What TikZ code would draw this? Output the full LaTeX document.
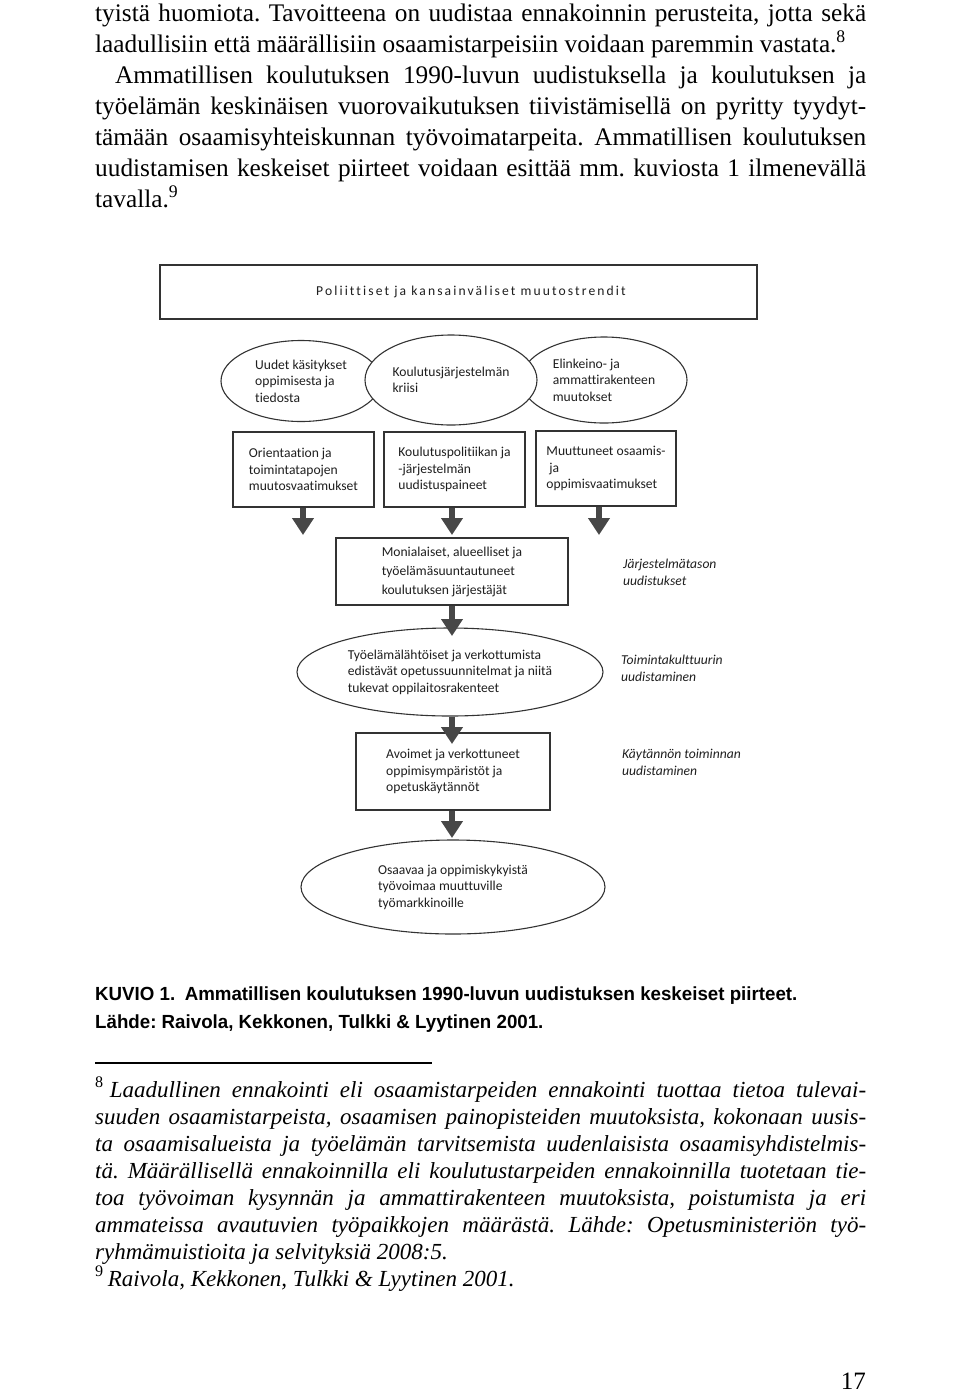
\documentclass[tikz,border=0pt]{standalone}
\usepackage{fontspec}
\setmainfont{Liberation Serif}
\newfontfamily\diag[Ligatures=NoCommon]{Carlito}
\newfontfamily\diagsp[LetterSpace=15.5,Ligatures=NoCommon]{Carlito}
\newfontfamily\capfont[FakeStretch=0.985]{Liberation Sans}
\usetikzlibrary{shapes.geometric,arrows.meta}
\tikzset{
  dg/.style={font=\diag\fontsize{13.6}{16.5}\selectfont, text=black!88},
  box/.style={dg, draw=black!80, line width=1.1pt, rectangle, align=left, inner sep=0pt},
  ell/.style={dg, draw=black!80, line width=1.1pt, ellipse, align=left, inner sep=0pt, fill=white},
  lbl/.style={font=\diag\itshape\fontsize{13.6}{16.5}\selectfont, align=left, anchor=north west, inner sep=0pt, text=black!88},
  flow/.style={draw=black!72, line width=6.5pt, -{Triangle[width=21pt,length=17pt]}},
  txt/.style={inner sep=0pt, anchor=base west}
}
\begin{document}
\frenchspacing
\begin{tikzpicture}[x=1pt,y=-1pt]
\useasboundingbox[fill=white] (0,0) rectangle (960,1395);

% body text
\node[txt] (body) at (95,21) {\parbox[t]{771pt}{\fontsize{25.3}{31}\selectfont\frenchspacing
\pretolerance=-1 \tolerance=10000 \hyphenpenalty=10000
tyistä huomiota. Tavoitteena on uudistaa ennakoinnin perusteita, jotta sekä\linebreak
laadullisiin että määrällisiin osaamistarpeisiin voidaan paremmin vastata.\textsuperscript{8}\par
\hspace*{20pt}Ammatillisen koulutuksen 1990-luvun uudistuksella ja koulutuksen ja\linebreak
työelämän keskinäisen vuorovaikutuksen tiivistämisellä on pyritty tyydyt-\linebreak
tämään osaamisyhteiskunnan työvoimatarpeita. Ammatillisen koulutuksen\linebreak
uudistamisen keskeiset piirteet voidaan esittää mm. kuviosta 1 ilmenevällä\linebreak
tavalla.\textsuperscript{9}}};

% diagram
\node[box, minimum width=597pt, minimum height=54pt, font=\diagsp\fontsize{13.6}{16}\selectfont] (top) at (458.5,292) {\hspace*{25pt}Poliittiset ja kansainväliset muutostrendit};

\node[ell, minimum width=160pt, minimum height=81pt] (eL) at (301,381) {Uudet käsitykset\\oppimisesta ja\\tiedosta};
\node[ell, minimum width=166pt, minimum height=86pt] (eR) at (604,380) {Elinkeino- ja\\ammattirakenteen\\muutokset};
\node[ell, minimum width=172pt, minimum height=90pt] (eM) at (451,380) {Koulutusjärjestelmän\\kriisi};

\node[box, minimum width=141pt, minimum height=75pt] (bA) at (303.5,469.5) {Orientaation ja\\toimintatapojen\\muutosvaatimukset};
\node[box, minimum width=141pt, minimum height=75pt] (bB) at (454.5,469.5) {Koulutuspolitiikan ja\\-järjestelmän\\uudistuspaineet};
\node[box, minimum width=140pt, minimum height=75pt] (bC) at (606,468.5) {Muuttuneet osaamis-\\\ ja\\oppimisvaatimukset};

\coordinate (ta) at (303,535);
\coordinate (tb) at (452,535);
\coordinate (tc) at (599,535);
\draw[flow] (bA.south -| ta) -- (ta);
\draw[flow] (bB.south -| tb) -- (tb);
\draw[flow] (bC.south -| tc) -- (tc);

\node[box, minimum width=232pt, minimum height=67pt, font=\diag\fontsize{13.6}{19}\selectfont] (bD) at (452,571.5) {Monialaiset, alueelliset ja\\työelämäsuuntautuneet\\koulutuksen järjestäjät};
\node[lbl] (lD) at (623,559) {Järjestelmätason\\uudistukset};

\node[ell, minimum width=306pt, minimum height=88pt] (eE) at (450,672) {Työelämälähtöiset ja verkottumista\\edistävät opetussuunnitelmat ja niitä\\tukevat oppilaitosrakenteet};
\node[lbl] (lE) at (621,655) {Toimintakulttuurin\\uudistaminen};

\node[box, minimum width=194pt, minimum height=77pt] (bF) at (453,771.5) {Avoimet ja verkottuneet\\oppimisympäristöt ja\\opetuskäytännöt};
\node[lbl] (lF) at (622,749) {Käytännön toiminnan\\uudistaminen};

\node[ell, minimum width=304pt, minimum height=94pt] (eG) at (453,887) {Osaavaa ja oppimiskykyistä\\työvoimaa muuttuville\\työmarkkinoille};

\coordinate (te) at (452,636);
\coordinate (tf) at (452,744);
\coordinate (tg) at (452,838);
\draw[flow] (bD.south) -- (te);
\draw[flow] (eE.south -| tf) -- (tf);
\draw[flow] (bF.south -| tg) -- (tg);

% caption
\node[txt, font=\capfont\bfseries\fontsize{19}{19}\selectfont] (cap1) at (95,1000) {KUVIO 1.\hspace{0.5em}Ammatillisen koulutuksen 1990-luvun uudistuksen keskeiset piirteet.};
\node[txt, font=\capfont\bfseries\fontsize{19}{19}\selectfont] (cap2) at (95,1028) {Lähde: Raivola, Kekkonen, Tulkki \& Lyytinen 2001.};

% footnote rule
\coordinate (r1) at (95,1063);
\coordinate (r2) at (432,1063);
\draw[line width=1.4pt] (r1) -- (r2);

% footnotes
\node[txt] (fn) at (95,1097) {\parbox[t]{771pt}{\fontsize{23}{27}\selectfont\itshape\frenchspacing
\pretolerance=-1 \tolerance=10000 \hyphenpenalty=10000
\textsuperscript{\upshape 8}\hspace{6pt}Laadullinen ennakointi eli osaamistarpeiden ennakointi tuottaa tietoa tulevai-\linebreak
suuden osaamistarpeista, osaamisen painopisteiden muutoksista, kokonaan uusis-\linebreak
ta osaamisalueista ja työelämän tarvitsemista uudenlaisista osaamisyhdistelmis-\linebreak
tä. Määrällisellä ennakoinnilla eli koulutustarpeiden ennakoinnilla tuotetaan tie-\linebreak
toa työvoiman kysynnän ja ammattirakenteen muutoksista, poistumista ja eri\linebreak
ammateissa avautuvien työpaikkojen määrästä. Lähde: Opetusministeriön työ-\linebreak
ryhmämuistioita ja selvityksiä 2008:5.\par
\textsuperscript{\upshape 9}\hspace{4pt}Raivola, Kekkonen, Tulkki \& Lyytinen 2001.}};

% page number
\node[inner sep=0pt, anchor=base east, font=\fontsize{25}{25}\selectfont] (pn) at (866,1389) {17};
\end{tikzpicture}
\end{document}
